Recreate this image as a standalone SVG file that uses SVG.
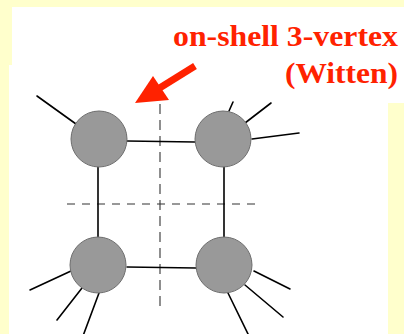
<svg xmlns="http://www.w3.org/2000/svg" width="404" height="334" viewBox="0 0 404 334">
  <style>
    .panel { fill: #ffffff; }
    .blob { fill: #999999; stroke: #6e6e6e; stroke-width: 1; }
    .line { stroke: #000000; stroke-width: 1.6; fill: none; stroke-linecap: round; }
    .cut { stroke: #333333; stroke-width: 1.1; fill: none; }
    .label { font-family: "Liberation Serif", "Times New Roman", serif; font-weight: bold; fill: #ff2200; font-size: 30px; }
  </style>

  <!-- slide background and white panels -->
  <rect x="0" y="0" width="404" height="334" fill="#ffffcc"/>
  <rect class="panel" x="12" y="7" width="392" height="96"/>
  <rect class="panel" x="9" y="65" width="379" height="269"/>

  <!-- caption -->
  <g id="caption">
    <text class="label" x="398" y="46" text-anchor="end" textLength="225" lengthAdjust="spacingAndGlyphs">on-shell 3-vertex</text>
    <text class="label" x="398" y="83" text-anchor="end" textLength="113" lengthAdjust="spacingAndGlyphs">(Witten)</text>
  </g>

  <!-- pointer arrow -->
  <g id="pointer" fill="#ff2200">
    <polygon points="135,103 153,76 169,100"/>
    <line x1="158" y1="89" x2="195" y2="66" stroke="#ff2200" stroke-width="7"/>
  </g>

  <!-- unitarity cuts -->
  <g id="cuts">
    <line class="cut" x1="160" y1="104" x2="160" y2="306" stroke-dasharray="10,6"/>
    <line class="cut" x1="67" y1="204" x2="257" y2="204" stroke-dasharray="8,7"/>
  </g>

  <!-- propagators and external legs -->
  <g id="connectors">
    <line class="line" x1="127" y1="141" x2="195" y2="142"/>
    <line class="line" x1="127" y1="267" x2="196" y2="268"/>
    <line class="line" x1="98" y1="167" x2="98" y2="237"/>
    <line class="line" x1="224" y1="167" x2="224" y2="237"/>

    <line class="line" x1="37" y1="96" x2="76" y2="124"/>

    <line class="line" x1="233" y1="102" x2="229" y2="111"/>
    <line class="line" x1="271" y1="103" x2="245" y2="123"/>
    <line class="line" x1="299" y1="133" x2="252" y2="139"/>

    <line class="line" x1="30" y1="290" x2="71" y2="271"/>
    <line class="line" x1="57" y1="320" x2="82" y2="288"/>
    <line class="line" x1="83" y1="336" x2="99" y2="293"/>

    <line class="line" x1="228" y1="293" x2="249" y2="336"/>
    <line class="line" x1="245" y1="285" x2="283" y2="317"/>
    <line class="line" x1="254" y1="271" x2="290" y2="289"/>
  </g>

  <!-- amplitude blobs -->
  <g id="blob-tl"><circle class="blob" cx="99" cy="139" r="28"/></g>
  <g id="blob-tr"><circle class="blob" cx="223" cy="139" r="28"/></g>
  <g id="blob-bl"><circle class="blob" cx="98" cy="265" r="28"/></g>
  <g id="blob-br"><circle class="blob" cx="224" cy="265" r="28"/></g>
</svg>
